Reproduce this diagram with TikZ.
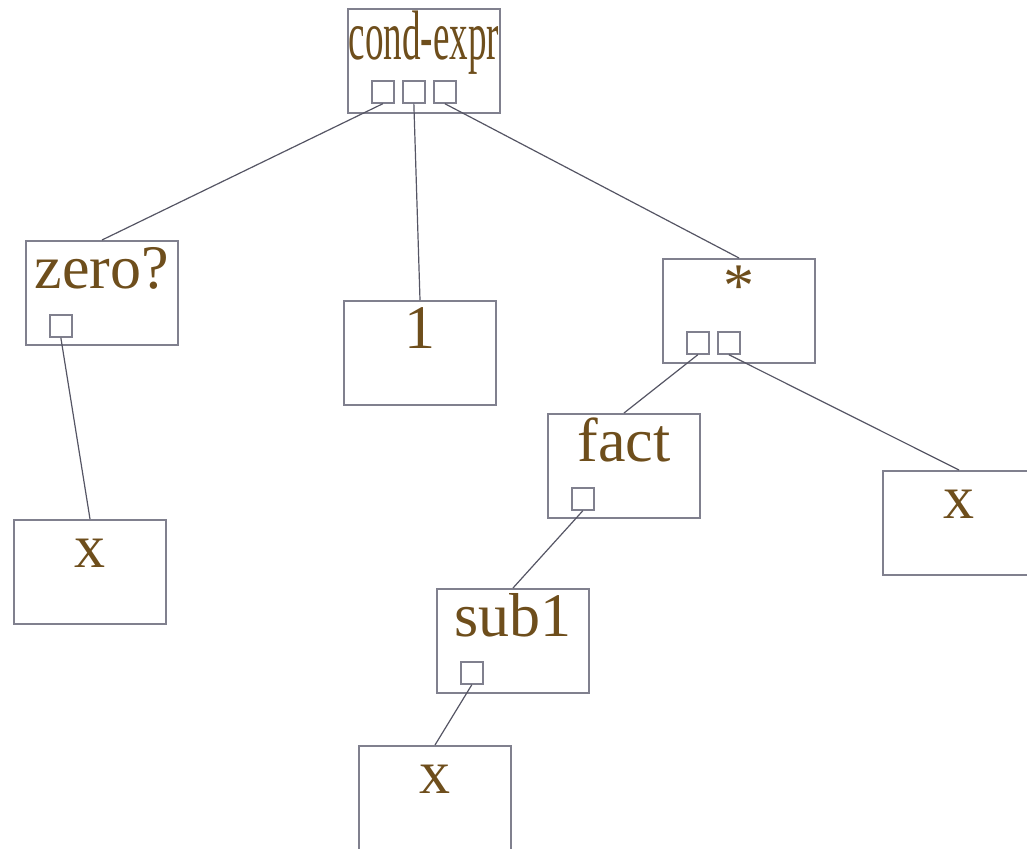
\documentclass[tikz,border=0pt]{standalone}
\usepackage{fontspec}
\setmainfont{Liberation Serif}
\usepackage{graphicx}
\definecolor{txtbrown}{RGB}{110,78,28}
\definecolor{boxgray}{RGB}{128,128,142}
\definecolor{linegray}{RGB}{85,85,100}
\begin{document}
\begin{tikzpicture}[x=1pt,y=-1pt,
  treebox/.style={draw=boxgray,line width=2pt,rectangle,minimum width=152pt,minimum height=104pt,inner sep=0pt,anchor=north west},
  slot/.style={draw=boxgray,line width=1.7pt,rectangle,minimum width=22pt,minimum height=22pt,inner sep=0pt,anchor=north west},
  lbl/.style={text=txtbrown,anchor=base,inner sep=0pt,font=\fontsize{62}{62}\selectfont},
  conn/.style={draw=linegray,line width=1.2pt}]
\useasboundingbox (0,0) rectangle (1027,848);
\clip (0,0) rectangle (1027,848);
% boxes
\node[treebox] (cond) at (347,8) {};
\node[treebox] (zero) at (25,240) {};
\node[treebox] (one) at (343,300) {};
\node[treebox] (star) at (662,258) {};
\node[treebox] (fact) at (547,413) {};
\node[treebox] (xr) at (882,470) {};
\node[treebox] (xl) at (13,519) {};
\node[treebox] (sub) at (436,588) {};
\node[treebox] (xb) at (358,745) {};
% labels
\node[text=txtbrown,anchor=base,inner sep=0pt] (condT) at ([yshift=-52pt]cond.north) {\scalebox{0.53}[1]{\fontsize{70}{70}\selectfont cond-expr}};
\node[lbl] (zeroT) at ([yshift=-48pt]zero.north) {zero?};
\node[lbl] (oneT) at ([yshift=-48pt]one.north) {1};
\node[lbl] (starT) at ([yshift=-48pt]star.north) {*};
\node[lbl] (factT) at ([yshift=-48pt]fact.north) {fact};
\node[lbl] (xrT) at ([yshift=-48pt]xr.north) {x};
\node[lbl] (xlT) at ([yshift=-48pt]xl.north) {x};
\node[lbl] (subT) at ([yshift=-48pt]sub.north) {sub1};
\node[lbl] (xbT) at ([yshift=-48pt]xb.north) {x};
% slots
\node[slot] (c1) at (371,80) {};
\node[slot] (c2) at (402,80) {};
\node[slot] (c3) at (433,80) {};
\node[slot] (z1) at (49,314) {};
\node[slot] (s1) at (686,331) {};
\node[slot] (s2) at (717,331) {};
\node[slot] (f1) at (571,487) {};
\node[slot] (u1) at (460,661) {};
% connectors
\draw[conn] (c1.south) -- (zero.north);
\draw[conn] (c2.south) -- (one.north);
\draw[conn] (c3.south) -- (star.north);
\draw[conn] (z1.south) -- (xl.north);
\draw[conn] (s1.south) -- (fact.north);
\draw[conn] (s2.south) -- (xr.north);
\draw[conn] (f1.south) -- (sub.north);
\draw[conn] (u1.south) -- (xb.north);
\end{tikzpicture}
\end{document}
